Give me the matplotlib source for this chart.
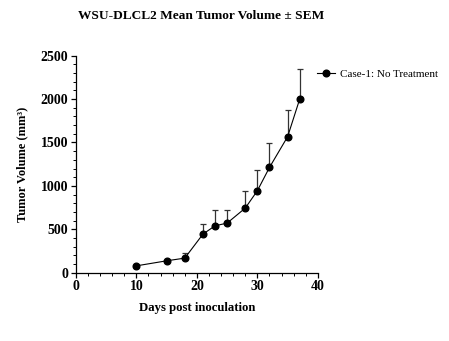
import matplotlib.pyplot as plt
from matplotlib.ticker import MultipleLocator

days = [10, 15, 18, 21, 23, 25, 28, 30, 32, 35, 37]
volume = [80, 138, 169, 445, 541, 572, 745, 945, 1213, 1567, 2001]
sem = [8, 12, 58, 120, 181, 150, 192, 242, 277, 307, 346]
series_label = "Case-1: No Treatment"

plt.rcParams['font.family'] = ['Liberation Serif', 'DejaVu Serif']

fig = plt.figure(figsize=(4.49, 3.41), dpi=100)
ax = fig.add_axes([0.169, 0.2, 0.539, 0.637])

# upper SEM only, then the mean line on top
ax.errorbar(days, volume, yerr=[[0] * len(sem), sem], fmt='none',
            ecolor='#333333', elinewidth=0.9, capsize=2.5, capthick=0.9)
ax.plot(days, volume, color='black', marker='o', markersize=4.8,
        linewidth=0.8, label=series_label)

ax.set_xlim(0, 40)
ax.set_ylim(0, 2500)
ax.xaxis.set_major_locator(MultipleLocator(10))
ax.xaxis.set_minor_locator(MultipleLocator(2))
ax.yaxis.set_major_locator(MultipleLocator(500))
ax.yaxis.set_minor_locator(MultipleLocator(100))

for s in ['top', 'right']:
    ax.spines[s].set_visible(False)
for s in ['left', 'bottom']:
    ax.spines[s].set_linewidth(0.9)

ax.tick_params(which='major', length=3.5, width=0.9, labelsize=10, pad=2)
ax.tick_params(which='minor', length=2, width=0.7)
for lab in ax.get_xticklabels() + ax.get_yticklabels():
    lab.set_fontweight('bold')

ax.set_xlabel("Days post inoculation", fontsize=9.2, fontweight='bold', labelpad=6)
ax.set_ylabel("Tumor Volume (mm³)", fontsize=9, fontweight='bold', labelpad=9)
fig.suptitle("WSU-DLCL2 Mean Tumor Volume ± SEM", x=0.448, y=0.97,
             fontsize=9.6, fontweight='bold')

ax.legend(loc='upper left', bbox_to_anchor=(0.955, 0.985), frameon=False,
          fontsize=8, handlelength=1.6, handletextpad=0.5)

fig.savefig("out.png", dpi=100)
